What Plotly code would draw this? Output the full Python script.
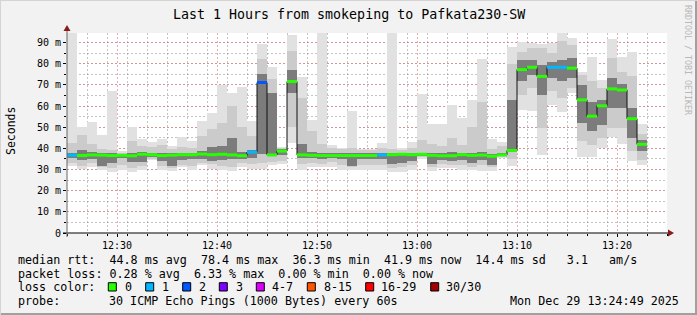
import pandas as pd
import plotly.graph_objects as go

# ---------------- data (ms) ----------------
start_time = "2025-12-29 12:25"
median = [36.8,36.6,36.9,36.8,36.6,36.7,36.5,37.2,37.0,36.6,
          36.8,37.0,37.0,37.3,37.0,37.2,36.9,36.5,38.2,71.1,
          36.9,38.7,71.6,36.9,36.7,36.6,36.6,36.6,36.6,36.6,
          36.6,36.9,37.0,37.2,37.0,37.2,36.7,36.5,36.5,37.0,
          36.7,36.8,36.3,36.9,39.0,77.2,78.3,74.0,78.3,78.3,
          77.9,62.9,55.2,60.1,68.1,67.6,54.0,41.9]
loss = [1,0,0,0,0,0,0,0,0,0,
        0,0,0,0,0,0,0,0,1,2,
        0,0,0,0,0,0,0,0,0,0,
        0,1,0,0,0,0,0,0,0,0,
        0,0,0,0,0,0,0,0,1,1,
        0,0,0,0,0,0,0,0]
ping_min = [31.5,30.2,31.4,29.7,28.9,30.0,28.9,30.0,34.5,29.7,
            29.4,31.3,30.0,32.0,30.3,29.7,29.4,31.3,30.2,30.2,
            32.0,32.8,42.3,30.0,31.4,31.3,31.3,30.0,30.0,30.0,
            30.0,30.0,28.8,29.0,30.0,35.1,29.5,30.5,30.5,30.0,
            30.0,29.5,29.5,35.5,31.5,58.2,57.7,36.9,60.6,57.3,
            66.1,35.7,35.7,40.1,45.2,42.0,34.1,32.2]
ping_max = [94.5,49.9,52.4,46.2,67.0,38.9,49.9,44.4,42.9,44.6,
            40.9,45.2,43.3,53.0,56.6,70.0,66.1,68.9,53.0,89.2,
            78.3,40.6,93.6,73.6,53.5,94.5,41.7,40.1,57.7,39.6,
            39.7,42.5,94.5,40.1,42.9,65.6,51.4,51.4,60.6,54.3,
            62.9,82.1,44.4,42.9,87.8,90.1,89.7,89.2,89.7,94.5,
            92.3,76.3,83.1,72.4,91.6,83.1,85.3,51.4]
p10 = [33.0,31.5,33.0,31.0,30.5,32.0,30.5,31.5,35.0,31.5,
       30.5,32.0,31.5,33.0,32.5,31.5,31.0,33.0,32.5,33.0,
       33.5,34.0,50.0,32.5,33.0,32.5,33.5,32.0,31.0,32.0,
       32.0,32.0,30.5,31.0,32.0,36.0,31.0,32.5,32.0,32.0,
       31.0,32.0,31.0,36.0,35.0,65.3,68.4,49.6,66.9,63.7,
       68.4,43.3,41.7,44.8,49.6,49.6,38.6,34.6]
p90 = [42.5,46.5,42.0,39.5,39.0,38.0,43.5,41.0,40.5,41.5,
       39.5,40.5,40.0,46.0,49.0,52.0,60.0,50.0,46.0,82.0,
       73.0,40.0,86.0,64.0,48.0,42.0,40.0,39.5,40.0,39.0,
       39.0,40.0,39.5,39.0,40.0,44.0,42.0,41.0,45.0,41.5,
       50.0,62.0,39.5,41.0,80.0,85.7,87.3,87.3,84.9,90.5,
       88.9,74.7,72.0,68.4,82.6,76.3,74.0,46.7]
p30 = [35.5,34.5,35.0,31.5,33.0,35.5,33.5,33.5,36.0,34.0,
       31.5,34.5,35.0,35.0,34.0,34.5,35.0,35.0,35.5,37.5,
       36.5,37.0,66.0,35.5,35.5,35.0,35.5,35.0,31.5,35.0,
       35.0,35.0,32.5,33.0,34.0,36.5,32.5,34.5,34.0,34.5,
       33.0,34.5,32.0,36.5,38.5,71.6,74.7,65.3,73.1,71.6,
       73.1,51.9,48.0,51.1,59.0,59.0,44.9,38.6]
p70 = [38.0,39.0,38.5,38.0,37.8,37.5,38.0,38.3,38.0,37.8,
       37.8,38.0,38.0,38.8,40.5,41.0,45.0,38.5,39.0,75.0,
       66.0,39.5,77.0,42.0,38.5,37.8,37.8,37.8,37.8,37.8,
       37.8,38.0,37.8,38.0,38.0,38.0,38.0,37.8,38.5,38.0,
       38.0,38.5,37.3,38.0,63.0,81.8,81.8,79.4,81.0,81.8,
       82.6,70.0,62.0,62.9,73.1,70.3,59.0,44.1]

y_ticks = [0, 10, 20, 30, 40, 50, 60, 70, 80, 90]
y_tick_text = ["0", "10 m", "20 m", "30 m", "40 m", "50 m", "60 m", "70 m", "80 m", "90 m"]
loss_legend = ["0", "1", "2", "3", "4-7", "8-15", "16-29", "30/30"]
loss_legend_colors = ["#26ff00", "#00b8ff", "#0059ff", "#7e00ff", "#dd00ff", "#ff5700", "#ff0000", "#a10000"]
loss_line_colors = {0: "#26ff00", 1: "#00b8ff", 2: "#0059ff"}

title = "Last 1 Hours from smokeping to Pafkata230-SW"
stat_line1 = "median rtt:  44.8 ms avg  78.4 ms max  36.3 ms min  41.9 ms now  14.4 ms sd   3.1   am/s"
stat_line2 = "packet loss: 0.28 % avg  6.33 % max  0.00 % min  0.00 % now"
probe_text = "30 ICMP Echo Pings (1000 Bytes) every 60s"
stamp_text = "Mon Dec 29 13:24:49 2025"

# ---------------- figure ----------------
W, H = 697, 315
L, R, T, B = 67, 667, 33, 233
t0 = pd.Timestamp(start_time)
times = [t0 + pd.Timedelta(minutes=k) for k in range(len(median))]
STEP = 60000

def px(x):
    return (x - L) / (R - L)

def py(y):
    return (B - y) / (B - T)

fig = go.Figure()

def smoke(lo, hi, color):
    fig.add_trace(go.Bar(x=times, y=[h - l for l, h in zip(lo, hi)], base=lo,
                         width=STEP, offset=0, marker=dict(color=color, line=dict(width=0)),
                         hoverinfo="skip", showlegend=False))

smoke(ping_min, ping_max, "#e1e1e1")
smoke(p10, p90, "#cbcbcb")
smoke(p30, p70, "#7c7c7c")

# thin step line of median
fig.add_trace(go.Scatter(x=times + [times[-1] + pd.Timedelta(minutes=1)], y=median + [median[-1]],
                         mode="lines", line=dict(color="#101010", width=1, shape="hv"),
                         hoverinfo="skip", showlegend=False))
# loss coloured median segments
for lv, col in loss_line_colors.items():
    xs, ys = [], []
    for t, m, l in zip(times, median, loss):
        if l == lv:
            xs += [t, t + pd.Timedelta(minutes=1), None]
            ys += [m, m, None]
    if xs:
        fig.add_trace(go.Scatter(x=xs, y=ys, mode="lines", line=dict(color=col, width=3),
                                 hoverinfo="skip", showlegend=False))

mono = "DejaVu Sans Mono"
ann = []
def text(x, y, s, size=11.7, anchor="left", color="#000000", angle=0):
    ann.append(dict(x=px(x), y=py(y), xref="paper", yref="paper", text=s.replace(" ", "\u00a0"),
                    showarrow=False, xanchor=anchor, yanchor="middle", textangle=angle,
                    font=dict(family=mono, size=size, color=color)))

text(348.5, 14, title, size=13.3, anchor="center")
text(11, 131, "Seconds", size=11.5, anchor="center", angle=-90)
text(688, 60, "RRDTOOL / TOBI OETIKER", size=8.3, anchor="center", color="#b8b8b8", angle=90)
text(16, 259.5, stat_line1)
text(16, 273.5, stat_line2)
text(16, 287, "loss color:")
text(16, 301, "probe:")
text(107, 301, probe_text)
text(681, 301, stamp_text, anchor="right")

shapes = []
box_x = [108.3, 145.7, 182.7, 219.3, 256.3, 307.3, 365.7, 430.7]
lab_x = [122.5, 160.0, 196.5, 233.5, 269.5, 321.5, 378.5, 444.0]
for bx, lx, lab, col in zip(box_x, lab_x, loss_legend, loss_legend_colors):
    shapes.append(dict(type="rect", xref="paper", yref="paper", x0=px(bx), x1=px(bx + 8),
                       y0=py(282.7), y1=py(291), fillcolor=col, line=dict(color="#000000", width=1), layer="above"))
    text(lx, 287, lab)

# axis lines and arrows
shapes.append(dict(type="line", xref="paper", yref="paper", x0=px(63), x1=px(670), y0=py(233), y1=py(233),
                   line=dict(color="#000000", width=1), layer="above"))
shapes.append(dict(type="line", xref="paper", yref="paper", x0=px(67), x1=px(67), y0=py(237), y1=py(30),
                   line=dict(color="#666666", width=1), layer="above"))
shapes.append(dict(type="path", xref="paper", yref="paper",
                   path=f"M {px(668)},{py(229.5)} L {px(674)},{py(233)} L {px(668)},{py(236.5)} Z",
                   fillcolor="#8b1a1a", line=dict(width=0), layer="above"))
shapes.append(dict(type="path", xref="paper", yref="paper",
                   path=f"M {px(63.5)},{py(31)} L {px(67)},{py(25)} L {px(70.5)},{py(31)} Z",
                   fillcolor="#8b1a1a", line=dict(width=0), layer="above"))
# frame
shapes.append(dict(type="line", xref="paper", yref="paper", x0=px(0), x1=px(697), y0=py(314), y1=py(314),
                   line=dict(color="#a0a0a0", width=2), layer="above"))
shapes.append(dict(type="line", xref="paper", yref="paper", x0=px(696), x1=px(696), y0=py(0), y1=py(315),
                   line=dict(color="#a0a0a0", width=2), layer="above"))
shapes.append(dict(type="line", xref="paper", yref="paper", x0=px(0), x1=px(697), y0=py(0.5), y1=py(0.5),
                   line=dict(color="#d4d4d4", width=1), layer="above"))
shapes.append(dict(type="line", xref="paper", yref="paper", x0=px(0.5), x1=px(0.5), y0=py(0), y1=py(315),
                   line=dict(color="#d4d4d4", width=1), layer="above"))

fig.update_layout(
    width=W, height=H, autosize=False,
    margin=dict(l=L, r=W - R, t=T, b=H - B, pad=0),
    paper_bgcolor="#f2f2f2", plot_bgcolor="#ffffff",
    barmode="overlay", bargap=0, showlegend=False,
    annotations=ann, shapes=shapes,
    font=dict(family=mono, size=10, color="#000000"),
)
fig.update_xaxes(
    type="date", range=[t0, t0 + pd.Timedelta(minutes=60)],
    tick0="2025-12-29 12:30", dtick=600000, tickformat="%H:%M",
    showgrid=True, gridcolor="rgba(220,120,120,0.6)", griddash="2px,2px", gridwidth=1,
    minor=dict(dtick=120000, tick0="2025-12-29 12:25", showgrid=True,
               gridcolor="rgba(150,150,150,0.55)", griddash="2px,2px", ticks="outside", ticklen=2, tickcolor="#000"),
    ticks="outside", ticklen=3, tickcolor="#000000", showline=False, zeroline=False,
    layer="above traces", tickfont=dict(family=mono, size=10, color="#000000"), fixedrange=True,
)
fig.update_yaxes(
    range=[0, 94.5], tickvals=y_ticks, ticktext=y_tick_text,
    showgrid=True, gridcolor="rgba(220,120,120,0.6)", griddash="2px,2px", gridwidth=1,
    minor=dict(dtick=5, tick0=0, showgrid=True, gridcolor="rgba(150,150,150,0.55)", griddash="2px,2px",
               ticks="outside", ticklen=2, tickcolor="#000"),
    ticks="outside", ticklen=3, tickcolor="#000000", showline=False, zeroline=False,
    layer="above traces", tickfont=dict(family=mono, size=10, color="#000000"), fixedrange=True,
)

fig.write_html("out.html")
